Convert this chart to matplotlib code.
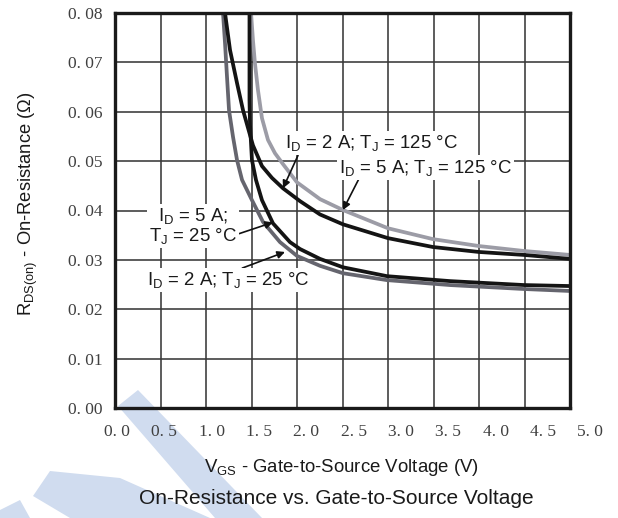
import matplotlib
matplotlib.use("Agg")
import matplotlib.pyplot as plt
from matplotlib.patches import Polygon
import matplotlib.transforms as mtransforms

plt.rcParams['font.family'] = ['Liberation Sans', 'DejaVu Sans']
plt.rcParams['mathtext.fontset'] = 'custom'
plt.rcParams['mathtext.rm'] = 'Liberation Sans'
plt.rcParams['mathtext.it'] = 'Liberation Sans'

# ---------------- data ----------------
vgs_2a_25 = [1.187, 1.209, 1.231, 1.253, 1.297, 1.341, 1.396, 1.505, 1.626, 1.813, 2.000, 2.253, 2.505, 2.989, 3.681, 4.495, 5.000]
rds_2a_25 = [0.0800, 0.0739, 0.0670, 0.0603, 0.0549, 0.0502, 0.0462, 0.0421, 0.0377, 0.0336, 0.0308, 0.0288, 0.0273, 0.0259, 0.0249, 0.0241, 0.0237]

vgs_5a_25 = [1.478, 1.478, 1.484, 1.505, 1.549, 1.615, 1.736, 1.923, 2.033, 2.253, 2.505, 2.989, 3.681, 4.495, 5.000]
rds_5a_25 = [0.0800, 0.0623, 0.0573, 0.0502, 0.0462, 0.0421, 0.0374, 0.0336, 0.0322, 0.0302, 0.0285, 0.0267, 0.0257, 0.0249, 0.0247]

vgs_2a_125 = [1.209, 1.264, 1.341, 1.407, 1.462, 1.516, 1.615, 1.725, 1.846, 2.033, 2.253, 2.505, 3.000, 3.495, 4.000, 4.495, 5.000]
rds_2a_125 = [0.0800, 0.0725, 0.0658, 0.0603, 0.0567, 0.0532, 0.0490, 0.0466, 0.0445, 0.0419, 0.0392, 0.0372, 0.0344, 0.0326, 0.0316, 0.0310, 0.0302]

vgs_5a_125 = [1.495, 1.516, 1.538, 1.571, 1.615, 1.681, 1.758, 1.846, 2.000, 2.253, 2.505, 3.000, 3.495, 4.000, 4.495, 5.000]
rds_5a_125 = [0.0800, 0.0745, 0.0698, 0.0644, 0.0587, 0.0543, 0.0516, 0.0494, 0.0457, 0.0423, 0.0401, 0.0364, 0.0342, 0.0328, 0.0318, 0.0310]

x_tick_labels = ["0. 0", "0. 5", "1. 0", "1. 5", "2. 0", "2. 5", "3. 0", "3. 5", "4. 0", "4. 5", "5. 0"]
y_ticks = [0.00, 0.01, 0.02, 0.03, 0.04, 0.05, 0.06, 0.07, 0.08]
y_tick_labels = ["0. 00", "0. 01", "0. 02", "0. 03", "0. 04", "0. 05", "0. 06", "0. 07", "0. 08"]

# ---------------- figure ----------------
W, H = 618, 518
fig = plt.figure(figsize=(W / 100, H / 100), dpi=100)

# watermark (light blue shapes behind everything)
wm_color = '#d0dcef'
def px(xp, yp):
    return (xp / W, 1 - yp / H)
for poly in ([(118, 406), (138, 390), (262, 518), (215, 518)],
             [(50, 471), (33, 496), (70, 518), (210, 518), (120, 478)],
             [(0, 510), (20, 500), (30, 518), (0, 518)]):
    fig.patches.append(Polygon([px(a, b) for a, b in poly], closed=True,
                               transform=fig.transFigure, facecolor=wm_color,
                               edgecolor='none', zorder=-5))

ax = fig.add_axes([115 / W, (H - 408) / H, (570 - 115) / W, (408 - 13) / H])
ax.patch.set_alpha(0)
ax.set_xlim(0, 5)
ax.set_ylim(0, 0.08)

ax.set_xticks([i * 0.5 for i in range(11)])
ax.set_yticks(y_ticks)
ax.grid(True, color='#383838', lw=1.15, zorder=1)
ax.tick_params(length=0, labelbottom=False)
ax.set_yticklabels(y_tick_labels, fontfamily='Liberation Serif', fontsize=12.5, color='#404040')
ax.tick_params(axis='y', pad=9)
for s in ax.spines.values():
    s.set_linewidth(2.4)
    s.set_color('#1a1a1a')
    s.set_zorder(5)

# x tick labels (slightly stretched spacing as in the reference)
trans = mtransforms.blended_transform_factory(ax.transData, ax.transAxes)
for k, lab in enumerate(x_tick_labels):
    ax.text(0.022 + 0.52 * k, -0.061, lab, transform=trans, ha='center', va='center',
            fontfamily='Liberation Serif', fontsize=12.5, color='#404040', clip_on=False)

lw = 2.7
ax.plot(vgs_5a_125, rds_5a_125, color='#9c9ca6', lw=lw, zorder=3, solid_joinstyle='round')
ax.plot(vgs_2a_25, rds_2a_25, color='#65656e', lw=lw, zorder=3, solid_joinstyle='round')
ax.plot(vgs_2a_125, rds_2a_125, color='#141414', lw=lw, zorder=4, solid_joinstyle='round')
ax.plot(vgs_5a_25, rds_5a_25, color='#141414', lw=lw, zorder=4, solid_joinstyle='round')

box = dict(facecolor='white', edgecolor='none', pad=1.5)
arrow = dict(arrowstyle='-|>', color='#111111', lw=1.2, mutation_scale=11, shrinkA=0, shrinkB=0)
fs = 13.4

ax.annotate(r'I$_\mathregular{D}$ = 2 A; T$_\mathregular{J}$ = 125 °C', xy=(1.846, 0.0445),
            xytext=(2.82, 0.0536), ha='center', va='center', fontsize=fs, color='#1a1a1a',
            bbox=box, arrowprops=dict(arrow, relpos=(0.08, 0.0)), zorder=6)
ax.annotate(r'I$_\mathregular{D}$ = 5 A; T$_\mathregular{J}$ = 125 °C', xy=(2.505, 0.0401),
            xytext=(3.41, 0.0487), ha='center', va='center', fontsize=fs, color='#1a1a1a',
            bbox=box, arrowprops=dict(arrow, relpos=(0.12, 0.0)), zorder=6)
ax.annotate('I$_\\mathregular{D}$ = 5 A;\nT$_\\mathregular{J}$ = 25 °C', xy=(1.736, 0.0376),
            xytext=(0.86, 0.0368), ha='center', va='center', fontsize=fs, color='#1a1a1a',
            linespacing=1.0, bbox=box, arrowprops=dict(arrow, relpos=(1.0, 0.3)), zorder=6)
ax.annotate(r'I$_\mathregular{D}$ = 2 A; T$_\mathregular{J}$ = 25 °C', xy=(1.868, 0.0316),
            xytext=(1.25, 0.0259), ha='center', va='center', fontsize=fs, color='#1a1a1a',
            bbox=box, arrowprops=dict(arrow, relpos=(0.55, 1.0)), zorder=6)

fig.text(28 / W, 1 - 204 / H, r'R$_\mathregular{DS(on)}$ - On-Resistance (Ω)', rotation=90,
         ha='center', va='center', fontsize=13.2, color='#1a1a1a')
fig.text(342 / W, 1 - 468 / H, r'V$_\mathregular{GS}$ - Gate-to-Source Voltage (V)',
         ha='center', va='center', fontsize=13.4, color='#1a1a1a')
fig.text(336 / W, 1 - 498 / H, 'On-Resistance vs. Gate-to-Source Voltage',
         ha='center', va='center', fontsize=15, color='#1a1a1a')

fig.savefig('out.png', dpi=100)
